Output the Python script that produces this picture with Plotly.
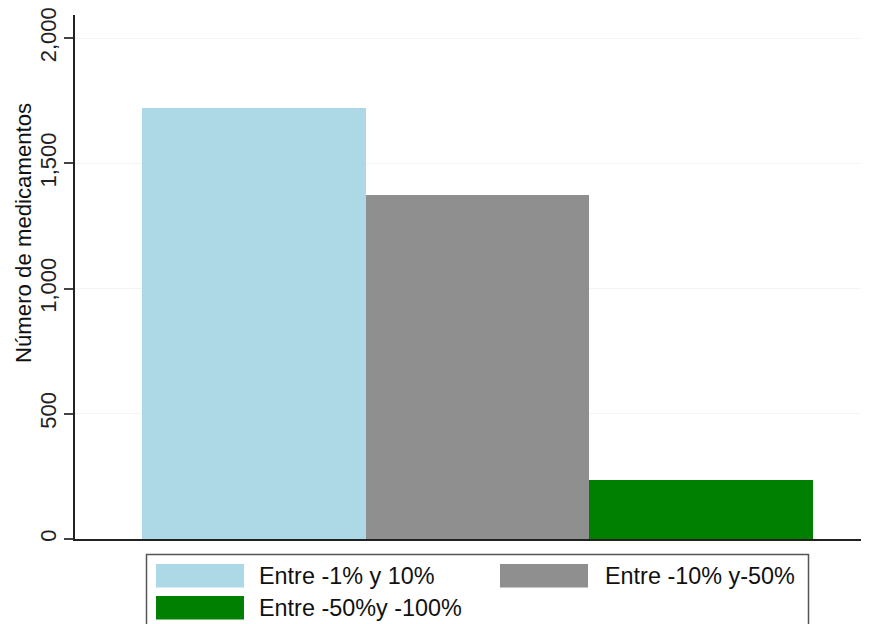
import plotly.graph_objects as go

categories = ["Entre -1% y 10%", "Entre -10% y-50%", "Entre -50%y -100%"]
values = [1720, 1375, 235]
colors = ["#ADD8E6", "#8F8F8F", "#008000"]
y_ticks = [0, 500, 1000, 1500, 2000]
y_tick_labels = ["0", "500", "1,000", "1,500", "2,000"]
y_title = "Número de medicamentos"

W, H = 869, 624
OFF = 8  # browser page margin offset
ML, MR, MT, MB = 75 - OFF, 0, 15 - OFF, 85 + OFF
PW, PH = W - ML - MR, H - MT - MB
UNIT = 223.7  # pixels per category
X0 = -0.7995
X1 = X0 + PW / UNIT

FONT = "Liberation Sans, Arial, sans-serif"

fig = go.Figure()
for i, (cat, val, col) in enumerate(zip(categories, values, colors)):
    fig.add_trace(go.Bar(
        x=[i], y=[val], name=cat, width=1.0,
        marker=dict(color=col, line=dict(width=0)),
        showlegend=False,
    ))


def xp(px):
    # px given in page (reference) pixels
    return (px - OFF - ML) / PW


def yp(py):
    return (H - MB - (py - OFF)) / PH


shapes = []
annotations = []
# legend box
shapes.append(dict(type="rect", xref="paper", yref="paper",
                   x0=xp(146.5), x1=xp(808.5), y0=yp(660), y1=yp(554.5),
                   line=dict(color="#555555", width=1.5), fillcolor="white", layer="above"))
legend_pos = [(156, 564, 257), (500, 564, 603), (156, 596, 257)]
for (sx, sy, tx), cat, col in zip(legend_pos, categories, colors):
    shapes.append(dict(type="rect", xref="paper", yref="paper",
                       x0=xp(sx), x1=xp(sx + 88), y0=yp(sy + 23.5), y1=yp(sy),
                       line=dict(width=0), fillcolor=col, layer="above"))
    annotations.append(dict(xref="paper", yref="paper", x=xp(tx), y=yp(sy + 12),
                            text=cat, showarrow=False, xanchor="left", yanchor="middle",
                            font=dict(family=FONT, size=23.4, color="#111111")))

# y-axis title (placed as in the reference, above the axis centre)
annotations.append(dict(xref="paper", yref="paper", x=xp(24), y=yp(233),
                        text=y_title, textangle=-90, showarrow=False,
                        xanchor="center", yanchor="middle",
                        font=dict(family=FONT, size=22.2, color="#111111")))

fig.update_layout(
    width=W, height=H,
    margin=dict(l=ML, r=MR, t=MT, b=MB, pad=0, autoexpand=False),
    paper_bgcolor="white", plot_bgcolor="white",
    bargap=0,
    showlegend=False,
    shapes=shapes,
    annotations=annotations,
    xaxis=dict(range=[X0, X1], showticklabels=False, ticks="",
               showgrid=False, zeroline=False, showline=True, automargin=False,
               linecolor="#222222", linewidth=1.5, fixedrange=True),
    yaxis=dict(range=[0, 2092], tickvals=y_ticks, ticktext=y_tick_labels,
               tickangle=-90, ticks="outside", ticklen=9, tickwidth=1.5,
               tickcolor="#444444", showline=True, linecolor="#222222", linewidth=1.5,
               showgrid=True, gridcolor="#f4f4f4", gridwidth=1, zeroline=False,
               automargin=False,
               ticklabelstandoff=-1, ticklabeloverflow="allow",
               tickfont=dict(family=FONT, size=22, color="#222222")),
)

fig.write_html("out.html")
